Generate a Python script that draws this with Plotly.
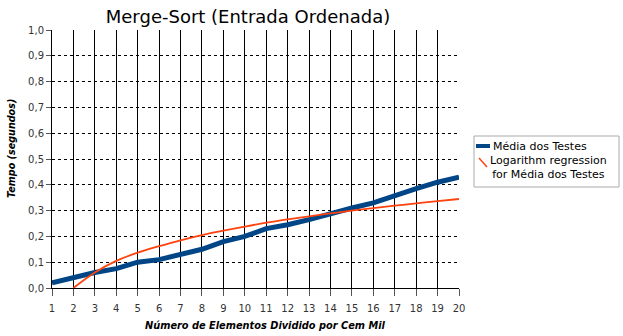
import plotly.graph_objects as go

# Number of elements (in hundreds of thousands)
n_elements = list(range(1, 21))

# Average measured time (seconds)
media_testes = [0.02, 0.04, 0.06, 0.075, 0.10, 0.11, 0.13, 0.15, 0.18, 0.20,
                0.23, 0.245, 0.265, 0.29, 0.31, 0.33, 0.36, 0.385, 0.41, 0.43]

# Logarithmic regression curve over the averages
reg_x = list(range(2, 21))
reg_vals = [0.00, 0.06, 0.105, 0.137, 0.162, 0.185, 0.205, 0.222, 0.238, 0.253,
            0.266, 0.278, 0.289, 0.30, 0.31, 0.319, 0.328, 0.337, 0.345]

y_ticks = [0.0, 0.1, 0.2, 0.3, 0.4, 0.5, 0.6, 0.7, 0.8, 0.9, 1.0]

series_names = ["Média dos Testes", "Logarithm regression<br>for Média dos Testes"]
series_colors = ["#004586", "#ff420e"]

W, H = 623, 336
font_family = "DejaVu Sans"

# Plot area in pixels (left, right, top, bottom)
plot_l, plot_r, plot_t, plot_b = 52, W - 164, 30, H - 48


def to_paper_x(p):
    return (p - plot_l) / (plot_r - plot_l)


def to_paper_y(p):
    return (plot_b - p) / (plot_b - plot_t)


fig = go.Figure()
fig.add_trace(go.Scatter(
    x=n_elements, y=media_testes, mode="lines", name=series_names[0],
    line=dict(color=series_colors[0], width=5),
))
fig.add_trace(go.Scatter(
    x=reg_x, y=reg_vals, mode="lines", name=series_names[1],
    line=dict(color=series_colors[1], width=1.8, shape="spline"),
))

fig.update_layout(
    width=W, height=H,
    margin=dict(l=plot_l, r=W - plot_r, t=plot_t, b=H - plot_b, autoexpand=False),
    paper_bgcolor="white", plot_bgcolor="white",
    separators=",.",
    font=dict(family=font_family, size=10, color="#333333"),
    title=dict(text="Merge-Sort (Entrada Ordenada)", x=248 / W, xanchor="center",
               y=1 - 17 / H, yanchor="middle",
               font=dict(family=font_family, size=18, color="black")),
    showlegend=False,
)

# Legend box with its keys, placed to the right of the plot
legend_shapes = [
    dict(type="rect", x0=474, x1=619, y0=136, y1=187,
         line=dict(color="#aaaaaa", width=1), fillcolor="white"),
    dict(type="line", x0=476, x1=490, y0=146, y1=146,
         line=dict(color=series_colors[0], width=4)),
    dict(type="line", x0=479, x1=487, y0=158, y1=167,
         line=dict(color=series_colors[1], width=1.5)),
]
for s in legend_shapes:
    s = dict(s)
    s.update(xref="paper", yref="paper",
             x0=to_paper_x(s["x0"]), x1=to_paper_x(s["x1"]),
             y0=to_paper_y(s["y0"]), y1=to_paper_y(s["y1"]))
    fig.add_shape(**s)

fig.add_annotation(xref="paper", yref="paper", x=to_paper_x(491), y=to_paper_y(146),
                   xanchor="left", yanchor="middle", showarrow=False,
                   text=series_names[0],
                   font=dict(family=font_family, size=11, color="black"))
fig.add_annotation(xref="paper", yref="paper", x=to_paper_x(548), y=to_paper_y(167.5),
                   xanchor="center", yanchor="middle", showarrow=False, align="center",
                   text=series_names[1],
                   font=dict(family=font_family, size=11, color="black"))

# Axis titles
fig.add_annotation(xref="paper", yref="paper", x=to_paper_x(265), y=to_paper_y(325),
                   xanchor="center", yanchor="middle", showarrow=False,
                   text="<b><i>Número de Elementos Dividido por Cem Mil</i></b>",
                   font=dict(family=font_family, size=9.8, color="black"))
fig.add_annotation(xref="paper", yref="paper", x=to_paper_x(11), y=to_paper_y(149),
                   xanchor="center", yanchor="middle", showarrow=False, textangle=-90,
                   text="<b><i>Tempo (segundos)</i></b>",
                   font=dict(family=font_family, size=9.6, color="black"))

fig.update_xaxes(
    range=[1, 20], tickmode="array", tickvals=n_elements,
    ticktext=[str(v) for v in n_elements],
    showgrid=True, gridcolor="black", gridwidth=1,
    showline=True, linecolor="black", linewidth=1,
    ticks="outside", ticklen=7, tickcolor="#555555",
    ticklabelstandoff=4,
    zeroline=False,
    tickfont=dict(family=font_family, size=10, color="#333333"),
)
fig.update_yaxes(
    range=[0, 1.0], tickmode="array", tickvals=y_ticks, tickformat=".1f",
    showgrid=True, gridcolor="black", gridwidth=1, griddash="dot",
    showline=True, linecolor="black", linewidth=1,
    ticks="outside", ticklen=5, tickcolor="#555555",
    zeroline=False,
    tickfont=dict(family=font_family, size=10, color="#333333"),
)

fig.write_html("out.html")
